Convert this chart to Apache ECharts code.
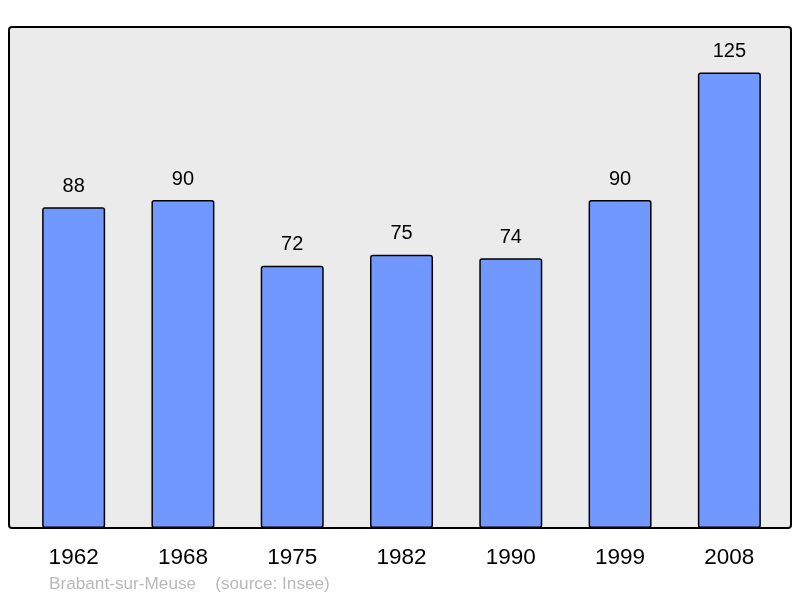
<!DOCTYPE html>
<html><head><meta charset="utf-8">
<script src="https://cdn.jsdelivr.net/npm/echarts@6/dist/echarts.min.js"></script>
<style>html,body{margin:0;padding:0;background:#fff}#c{width:800px;height:598px}</style>
</head><body><div id="c"></div>
<script>
var years = ['1962','1968','1975','1982','1990','1999','2008'];
var population = [88, 90, 72, 75, 74, 90, 125];
var caption = 'Brabant-sur-Meuse    (source: Insee)';

var chart = echarts.init(document.getElementById('c'), null, {renderer:'canvas'});
chart.setOption({
  animation: false,
  backgroundColor: '#ffffff',
  grid: {left: 19, right: 16, top: 27, bottom: 70},
  graphic: [
    {type:'rect', z: 0, shape:{x:9, y:27, width:782, height:501, r:3},
     style:{fill:'#ebebeb', stroke:'#000', lineWidth:2}},
    {type:'text', left: 49, top: 575.5, z: 5,
     style:{text: caption, fill:'#b9b9b9', font:'17.2px "Liberation Sans", Arial, sans-serif'}}
  ],
  xAxis: {
    type: 'category', data: years,
    axisLine: {show: false}, axisTick: {show: false},
    axisLabel: {color:'#000', fontSize: 22.5, fontFamily:'"Liberation Sans", Arial, sans-serif', margin: 18}
  },
  yAxis: {type:'value', min: 0, max: 137.5, show: false, splitLine:{show:false}},
  series: [{
    type: 'bar', data: population, barWidth: 63, z: 3,
    itemStyle: {color:'#7098ff', borderColor:'#000', borderWidth:1.5, borderRadius:2},
    label: {show: true, position: 'top', distance: 11, color:'#000', fontSize: 20,
      fontFamily:'"Liberation Sans", Arial, sans-serif'}
  }]
});
</script></body></html>
